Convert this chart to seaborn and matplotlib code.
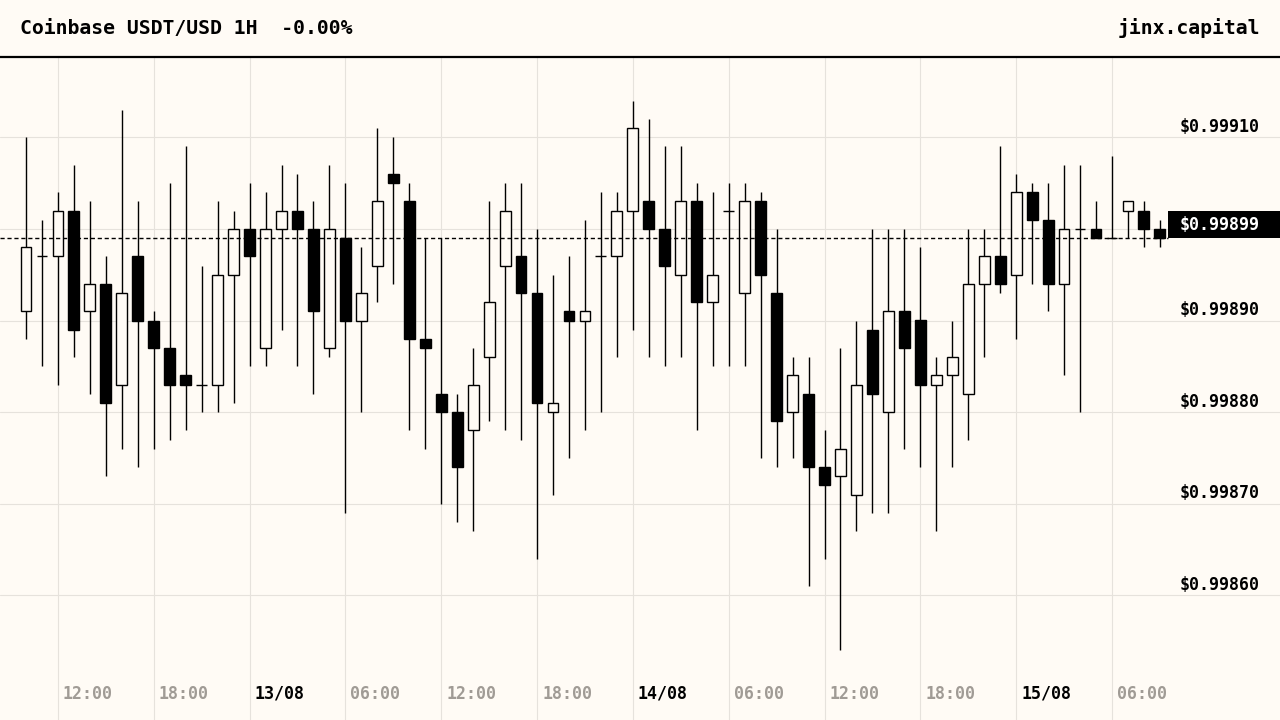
import numpy as np
import pandas as pd
import matplotlib
matplotlib.use("Agg")
import matplotlib.pyplot as plt
import matplotlib.transforms as mtransforms
from matplotlib.patches import Rectangle
import seaborn as sns

# ---- data (USDT/USD hourly candles) ----
start_time = "2023-08-12 10:00"
opens = [0.99891, 0.99897, 0.99897, 0.99902, 0.99891, 0.99894, 0.99883, 0.99897, 0.99890, 0.99887,
         0.99884, 0.99883, 0.99883, 0.99895, 0.99900, 0.99887, 0.99900, 0.99902, 0.99900, 0.99887,
         0.99899, 0.99890, 0.99896, 0.99906, 0.99903, 0.99888, 0.99882, 0.99880, 0.99878, 0.99886,
         0.99896, 0.99897, 0.99893, 0.99880, 0.99891, 0.99890, 0.99897, 0.99897, 0.99902, 0.99903,
         0.99900, 0.99895, 0.99903, 0.99892, 0.99902, 0.99893, 0.99903, 0.99893, 0.99880, 0.99882,
         0.99874, 0.99873, 0.99871, 0.99889, 0.99880, 0.99891, 0.99890, 0.99883, 0.99884, 0.99882,
         0.99894, 0.99897, 0.99895, 0.99904, 0.99901, 0.99894, 0.99900, 0.99900, 0.99899, 0.99902,
         0.99902, 0.99900]
highs = [0.99910, 0.99901, 0.99904, 0.99907, 0.99903, 0.99897, 0.99913, 0.99903, 0.99891, 0.99905,
         0.99909, 0.99896, 0.99903, 0.99902, 0.99905, 0.99904, 0.99907, 0.99906, 0.99903, 0.99907,
         0.99905, 0.99898, 0.99911, 0.99910, 0.99905, 0.99899, 0.99899, 0.99882, 0.99887, 0.99903,
         0.99905, 0.99905, 0.99900, 0.99895, 0.99897, 0.99901, 0.99904, 0.99904, 0.99914, 0.99912,
         0.99909, 0.99909, 0.99905, 0.99904, 0.99905, 0.99905, 0.99904, 0.99900, 0.99886, 0.99886,
         0.99878, 0.99887, 0.99890, 0.99900, 0.99900, 0.99900, 0.99898, 0.99886, 0.99890, 0.99900,
         0.99900, 0.99909, 0.99906, 0.99905, 0.99905, 0.99907, 0.99907, 0.99903, 0.99908, 0.99903,
         0.99903, 0.99901]
lows = [0.99888, 0.99885, 0.99883, 0.99886, 0.99882, 0.99873, 0.99876, 0.99874, 0.99876, 0.99877,
        0.99878, 0.99880, 0.99880, 0.99881, 0.99885, 0.99885, 0.99889, 0.99885, 0.99882, 0.99886,
        0.99869, 0.99880, 0.99892, 0.99894, 0.99878, 0.99876, 0.99870, 0.99868, 0.99867, 0.99879,
        0.99878, 0.99877, 0.99864, 0.99871, 0.99875, 0.99878, 0.99880, 0.99886, 0.99889, 0.99886,
        0.99885, 0.99886, 0.99878, 0.99885, 0.99885, 0.99885, 0.99875, 0.99874, 0.99875, 0.99861,
        0.99864, 0.99854, 0.99867, 0.99869, 0.99869, 0.99876, 0.99874, 0.99867, 0.99874, 0.99877,
        0.99886, 0.99893, 0.99888, 0.99894, 0.99891, 0.99884, 0.99880, 0.99899, 0.99899, 0.99899,
        0.99898, 0.99898]
closes = [0.99898, 0.99897, 0.99902, 0.99889, 0.99894, 0.99881, 0.99893, 0.99890, 0.99887, 0.99883,
          0.99883, 0.99883, 0.99895, 0.99900, 0.99897, 0.99900, 0.99902, 0.99900, 0.99891, 0.99900,
          0.99890, 0.99893, 0.99903, 0.99905, 0.99888, 0.99887, 0.99880, 0.99874, 0.99883, 0.99892,
          0.99902, 0.99893, 0.99881, 0.99881, 0.99890, 0.99891, 0.99897, 0.99902, 0.99911, 0.99900,
          0.99896, 0.99903, 0.99892, 0.99895, 0.99902, 0.99903, 0.99895, 0.99879, 0.99884, 0.99874,
          0.99872, 0.99876, 0.99883, 0.99882, 0.99891, 0.99887, 0.99883, 0.99884, 0.99886, 0.99894,
          0.99897, 0.99894, 0.99904, 0.99901, 0.99894, 0.99900, 0.99900, 0.99899, 0.99899, 0.99903,
          0.99900, 0.99899]
y_ticks = [0.99860, 0.99870, 0.99880, 0.99890, 0.99900, 0.99910]
title_text = "Coinbase USDT/USD 1H  -0.00%"
brand_text = "jinx.capital"

# ---- style ----
BG = "#fffbf5"
GRID = "#e6e2dc"
GREY = "#a09b95"
sns.set_theme(style="white")
plt.rcParams["font.family"] = ["DejaVu Sans Mono", "DejaVu Sans"]
plt.rcParams["font.weight"] = "bold"

times = pd.date_range(start_time, periods=len(opens), freq="h")
df = pd.DataFrame({"time": times, "open": opens, "high": highs, "low": lows, "close": closes})
df["x"] = (df["time"] - df["time"].iloc[0]) / pd.Timedelta(hours=1)
df["up"] = df["close"] >= df["open"]

W, H = 1280, 720
fig = plt.figure(figsize=(W / 100, H / 100), dpi=100, facecolor=BG)
ax_top_px = 57
ax = fig.add_axes([0, 0, 1, (H - ax_top_px) / H])
ax.set_facecolor(BG)

px_per_hour = 15.97
first_px = 26
ax.set_xlim(-first_px / px_per_hour, (W - first_px) / px_per_hour)
px_per_unit = 916.0 / 0.001
ref_price, ref_px = 0.99910, 137.3
ax.set_ylim(ref_price - (H - ref_px) / px_per_unit, ref_price + (ref_px - ax_top_px) / px_per_unit)

# grid
tick_df = df[df["time"].dt.hour % 6 == 0]
ax.set_xticks(tick_df["x"])
ax.set_yticks(y_ticks)
ax.grid(True, color=GRID, linewidth=0.8, zorder=0)
ax.tick_params(left=False, bottom=False, labelleft=False, labelbottom=False)
for s in ["left", "right", "bottom"]:
    ax.spines[s].set_visible(False)
ax.spines["top"].set_visible(True)
ax.spines["top"].set_color("black")
ax.spines["top"].set_linewidth(1.6)

# candles
bw = 0.68
ax.vlines(df["x"], df["low"], df["high"], color="black", linewidth=1.0, zorder=2)
body_lo = np.minimum(df["open"], df["close"])
body_h = np.abs(df["close"] - df["open"])
nz = body_h > 0
ax.bar(df["x"][nz], body_h[nz], bottom=body_lo[nz], width=bw,
       color=np.where(df["up"][nz], BG, "black"), edgecolor="black", linewidth=1.0, zorder=3)
dj = ~nz
ax.hlines(df["close"][dj], df["x"][dj] - bw / 2, df["x"][dj] + bw / 2, color="black",
          linewidth=1.0, zorder=3)

# current price line & label
last = closes[-1]
box_left = 1168 / W
x0, x1 = ax.get_xlim()
ax.plot([x0, x0 + (x1 - x0) * box_left], [last, last], color="black", linewidth=1.0,
        linestyle=(0, (3, 2)), zorder=4)
box_h = 27 / px_per_unit
ax.add_patch(Rectangle((box_left, last), 1 - box_left, box_h, transform=ax.get_yaxis_transform(),
                       facecolor="black", edgecolor="none", zorder=5, clip_on=False))
ax.text(1260 / W, last + box_h / 2, f"${last:.5f}", transform=ax.get_yaxis_transform(),
        ha="right", va="center", color="white", fontsize=12, fontweight="bold", zorder=6)

# y labels
ylab_tr = mtransforms.offset_copy(ax.get_yaxis_transform(), fig=fig, y=1.5, units="dots")
for p in y_ticks:
    if abs(p - last) < 0.00003:
        continue
    ax.text(1260 / W, p, f"${p:.5f}", transform=ylab_tr, ha="right", va="bottom",
            color="black", fontsize=12, fontweight="bold", zorder=6)

# x labels
xlab_tr = mtransforms.offset_copy(ax.get_xaxis_transform(), fig=fig, x=5, units="dots")
lab_y = (H - 694) / (H - ax_top_px)
for xv, t in zip(tick_df["x"], tick_df["time"]):
    if t.hour == 0:
        lab, col = t.strftime("%d/%m"), "black"
    else:
        lab, col = t.strftime("%H:%M"), GREY
    ax.text(xv, lab_y, lab, transform=xlab_tr, ha="left", va="center", color=col,
            fontsize=12, fontweight="bold")

# header
fig.text(20 / W, 1 - 28 / H, title_text, ha="left", va="center", fontsize=14.2,
         fontweight="bold", color="black")
fig.text(1260 / W, 1 - 28 / H, brand_text, ha="right", va="center", fontsize=14.2,
         fontweight="bold", color="black")

fig.savefig("out.png", dpi=100, facecolor=BG)
